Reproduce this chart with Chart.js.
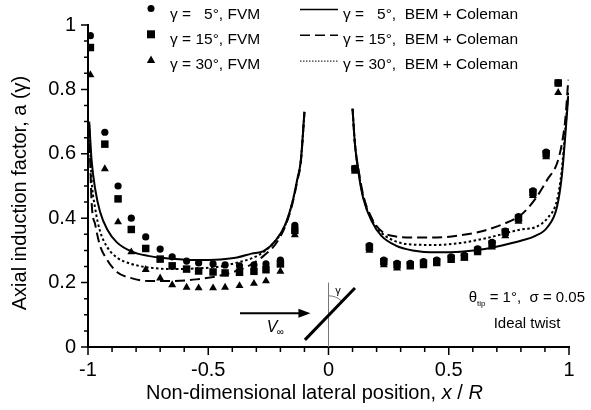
<!DOCTYPE html>
<html lang="en">
<head>
<meta charset="UTF-8">
<title>Axial induction factor</title>
<script src="https://cdn.jsdelivr.net/npm/chart.js"></script>
<style>
    html, body { margin: 0; padding: 0; background: #fff; }
    .chart-container { position: relative; width: 591px; height: 410px; }
</style>
</head>
<body>
<div class="chart-container"><canvas id="chart" width="591" height="410"></canvas></div>
<script>
// FVM results (symbols)
const fvmX = [-0.99, -0.93, -0.875, -0.82, -0.76, -0.70, -0.65, -0.59, -0.54, -0.48, -0.43, -0.37, -0.31, -0.26, -0.20, -0.14,
              0.11, 0.17, 0.23, 0.285, 0.34, 0.395, 0.45, 0.51, 0.565, 0.62, 0.68, 0.735, 0.79, 0.85, 0.905, 0.955];
const fvm5  = [0.967, 0.667, 0.50, 0.40, 0.342, 0.304, 0.28, 0.267, 0.261, 0.258, 0.255, 0.252, 0.255, 0.258, 0.27, 0.378,
               0.555, 0.315, 0.27, 0.26, 0.26, 0.265, 0.27, 0.28, 0.285, 0.305, 0.325, 0.36, 0.405, 0.485, 0.605, 0.82];
const fvm15 = [0.93, 0.63, 0.46, 0.365, 0.306, 0.273, 0.252, 0.242, 0.236, 0.233, 0.23, 0.232, 0.235, 0.24, 0.258, 0.362,
               0.553, 0.31, 0.265, 0.255, 0.255, 0.26, 0.265, 0.275, 0.28, 0.30, 0.32, 0.357, 0.40, 0.48, 0.60, 0.82];
const fvm30 = [0.845, 0.553, 0.388, 0.295, 0.24, 0.214, 0.193, 0.185, 0.183, 0.183, 0.185, 0.19, 0.197, 0.205, 0.235, 0.348,
               0.545, 0.30, 0.255, 0.245, 0.248, 0.252, 0.258, 0.268, 0.275, 0.292, 0.31, 0.345, 0.39, 0.47, 0.59, 0.79];

// BEM + Coleman (lines), left and right branches
const bemLeftX = [-0.995, -0.985, -0.97, -0.95, -0.92, -0.88, -0.82, -0.75, -0.65, -0.55, -0.45, -0.38, -0.32, -0.27, -0.22, -0.18, -0.15, -0.13, -0.115, -0.1];
const bem5Left  = [0.70, 0.58, 0.49, 0.42, 0.365, 0.325, 0.297, 0.283, 0.274, 0.27, 0.272, 0.278, 0.29, 0.298, 0.33, 0.38, 0.45, 0.52, 0.58, 0.73];
const bem15Left = [0.68, 0.45, 0.38, 0.315, 0.27, 0.233, 0.214, 0.205, 0.205, 0.21, 0.222, 0.237, 0.257, 0.283, 0.32, 0.375, 0.445, 0.515, 0.575, 0.73];
const bem30Left = [0.69, 0.52, 0.43, 0.36, 0.31, 0.278, 0.258, 0.247, 0.242, 0.244, 0.25, 0.262, 0.275, 0.295, 0.33, 0.378, 0.45, 0.52, 0.58, 0.73];

const bemRightX = [0.1, 0.11, 0.125, 0.145, 0.18, 0.22, 0.28, 0.35, 0.45, 0.55, 0.65, 0.72, 0.8, 0.86, 0.91, 0.95, 0.97, 0.985, 0.997];
const bem5Right  = [0.74, 0.63, 0.54, 0.46, 0.39, 0.345, 0.315, 0.30, 0.294, 0.296, 0.304, 0.315, 0.33, 0.345, 0.372, 0.435, 0.53, 0.66, 0.78];
const bem15Right = [0.74, 0.63, 0.55, 0.47, 0.40, 0.36, 0.343, 0.34, 0.34, 0.347, 0.362, 0.38, 0.41, 0.46, 0.52, 0.57, 0.63, 0.71, 0.83];
const bem30Right = [0.74, 0.63, 0.545, 0.465, 0.395, 0.355, 0.328, 0.318, 0.317, 0.323, 0.337, 0.35, 0.365, 0.372, 0.40, 0.456, 0.55, 0.68, 0.79];

const xTicks = [-1, -0.5, 0, 0.5, 1];
const yTicks = [0, 0.2, 0.4, 0.6, 0.8, 1];

const FONT = "'Liberation Sans', Arial, sans-serif";

function pts(xs, ys) {
    return xs.map((x, i) => ({ x: x, y: ys[i] }));
}

function fvmSet(label, ys, style, r) {
    return {
        label: label, data: pts(fvmX, ys), showLine: false,
        pointStyle: style, pointRadius: r, pointBorderWidth: 0,
        backgroundColor: '#000', borderColor: '#000'
    };
}

function bemSet(label, xs, ys, dash) {
    return {
        label: label, data: pts(xs, ys), borderColor: '#000', borderWidth: 2,
        borderDash: dash, pointRadius: 0, cubicInterpolationMode: 'monotone', fill: false
    };
}

const DASH = [10, 5];
const DOT = [2.5, 2.5];

// legend, inset and fine ticks
const decor = {
    id: 'decor',
    afterDraw(chart) {
        const { ctx, chartArea: a, scales: { x, y } } = chart;
        ctx.save();
        ctx.strokeStyle = '#000';
        ctx.fillStyle = '#000';

        // ticks (major + minor)
        ctx.lineWidth = 1.5;
        ctx.beginPath();
        for (let i = 0; i <= 20; i++) {
            const px = x.getPixelForValue(-1 + i * 0.1);
            const len = i % 5 === 0 ? 8 : 5;
            ctx.moveTo(px, a.bottom); ctx.lineTo(px, a.bottom + len);
        }
        for (let i = 0; i <= 20; i++) {
            const py = y.getPixelForValue(i * 0.05);
            const len = i % 4 === 0 ? 7 : 4;
            ctx.moveTo(a.left, py); ctx.lineTo(a.left - len, py);
        }
        ctx.stroke();

        // axis titles
        ctx.textBaseline = 'alphabetic';
        ctx.textAlign = 'left';
        let tx = 146;
        const parts = [['Non-dimensional lateral position, ', ''], ['x', 'italic '], [' / ', ''], ['R', 'italic ']];
        parts.forEach(([t, st]) => {
            ctx.font = st + '20px ' + FONT;
            ctx.fillText(t, tx, 399);
            tx += ctx.measureText(t).width;
        });
        ctx.save();
        ctx.translate(26, 193);
        ctx.rotate(-Math.PI / 2);
        ctx.textAlign = 'center';
        ctx.font = '20px ' + FONT;
        ctx.fillText('Axial induction factor, a (\u03b3)', 0, 0);
        ctx.restore();

        // legend
        ctx.font = '15.5px ' + FONT;
        const gammaText = (x0, base, deg, rest) => {
            ctx.textAlign = 'left';
            ctx.fillText('\u03b3 = ', x0, base);
            const numEnd = x0 + ctx.measureText('\u03b3 = 15').width;
            ctx.textAlign = 'right';
            ctx.fillText(deg, numEnd, base);
            ctx.textAlign = 'left';
            ctx.fillText('\u00b0' + rest, numEnd, base);
        };
        const degs = ['5', '15', '30'];
        const dashes = [[], DASH, [1.5, 1.5]];
        for (let k = 0; k < 3; k++) {
            const sy = 8.5 + 25.8 * k;
            const base = 18.5 + 25 * k;
            // symbol
            ctx.beginPath();
            if (k === 0) ctx.arc(151, sy, 3.5, 0, Math.PI * 2);
            else if (k === 1) ctx.rect(147, sy - 4, 8, 8);
            else { ctx.moveTo(151, sy - 4.5); ctx.lineTo(155.2, sy + 3); ctx.lineTo(146.8, sy + 3); ctx.closePath(); }
            ctx.fill();
            gammaText(170, base, degs[k], ', FVM');
            // line sample
            ctx.save();
            ctx.lineWidth = k === 2 ? 1 : 1.5;
            ctx.setLineDash(dashes[k]);
            ctx.beginPath();
            ctx.moveTo(300, sy + 1); ctx.lineTo(338, sy + 1);
            ctx.stroke();
            ctx.restore();
            gammaText(343, base, degs[k], ',  BEM + Coleman');
        }

        // inset: flow arrow, rotor disc, yaw angle
        const X = v => x.getPixelForValue(v);
        const Y = v => y.getPixelForValue(v);
        ctx.lineWidth = 2;
        ctx.beginPath();
        ctx.moveTo(X(-0.368), Y(0.105)); ctx.lineTo(X(-0.11), Y(0.105));
        ctx.stroke();
        ctx.beginPath();
        ctx.moveTo(X(-0.075), Y(0.105));
        ctx.lineTo(X(-0.125), Y(0.105) - 4.5);
        ctx.lineTo(X(-0.125), Y(0.105) + 4.5);
        ctx.closePath();
        ctx.fill();
        ctx.font = 'italic 16px ' + FONT;
        ctx.fillText('V', X(-0.257), Y(0.047));
        ctx.font = '10px ' + FONT;
        ctx.fillText('\u221e', X(-0.215), Y(0.036));

        ctx.strokeStyle = '#777';
        ctx.lineWidth = 1;
        ctx.beginPath();
        ctx.moveTo(X(0), Y(0)); ctx.lineTo(X(0), Y(0.2));
        ctx.stroke();
        const cx = X(0), cy = Y(0.1);
        ctx.beginPath();
        ctx.arc(cx, cy, 19, -Math.PI / 2, -0.8, false);
        ctx.stroke();

        ctx.strokeStyle = '#000';
        ctx.lineWidth = 3;
        ctx.beginPath();
        ctx.moveTo(X(-0.098), Y(0.022)); ctx.lineTo(X(0.11), Y(0.183));
        ctx.stroke();
        ctx.font = '11px ' + FONT;
        ctx.fillText('\u03b3', X(0.028), Y(0.165));

        // case parameters
        ctx.font = '15px ' + FONT;
        ctx.textAlign = 'right';
        const rest = ' = 1\u00b0,  \u03c3 = 0.05';
        ctx.fillText(rest, 585, 302);
        const rw = ctx.measureText(rest).width;
        ctx.font = '8px ' + FONT;
        ctx.fillText('tip', 585 - rw, 306);
        const tw = ctx.measureText('tip').width;
        ctx.font = '15px ' + FONT;
        ctx.fillText('\u03b8', 585 - rw - tw, 302);
        ctx.textAlign = 'center';
        ctx.fillText('Ideal twist', 527, 328);
        ctx.restore();
    }
};

const tickLabel = v => String(Math.round(v * 100) / 100);

const ctx = document.getElementById('chart').getContext('2d');
const chart = new Chart(ctx, {
    type: 'line',
    data: {
        datasets: [
            fvmSet('\u03b3 = 5\u00b0, FVM', fvm5, 'circle', 3.6),
            fvmSet('\u03b3 = 15\u00b0, FVM', fvm15, 'rect', 5.3),
            fvmSet('\u03b3 = 30\u00b0, FVM', fvm30, 'triangle', 4.6),
            bemSet('\u03b3 = 5\u00b0, BEM + Coleman', bemLeftX, bem5Left, []),
            bemSet('\u03b3 = 5\u00b0, BEM + Coleman (right)', bemRightX, bem5Right, []),
            bemSet('\u03b3 = 15\u00b0, BEM + Coleman', bemLeftX, bem15Left, DASH),
            bemSet('\u03b3 = 15\u00b0, BEM + Coleman (right)', bemRightX, bem15Right, DASH),
            bemSet('\u03b3 = 30\u00b0, BEM + Coleman', bemLeftX, bem30Left, DOT),
            bemSet('\u03b3 = 30\u00b0, BEM + Coleman (right)', bemRightX, bem30Right, DOT)
        ]
    },
    options: {
        responsive: false,
        animation: false,
        devicePixelRatio: 1,
        layout: { padding: { left: 0, right: 22, top: 25, bottom: 0 } },
        plugins: { legend: { display: false }, tooltip: { enabled: false } },
        scales: {
            x: {
                type: 'linear', min: -1, max: 1,
                grid: { display: false, drawTicks: false },
                border: { display: true, color: '#000', width: 2 },
                afterBuildTicks: s => { s.ticks = xTicks.map(v => ({ value: v })); },
                ticks: { color: '#000', padding: 11, font: { family: FONT, size: 20 }, callback: tickLabel },
                afterFit: s => { s.height = 63; }
            },
            y: {
                type: 'linear', min: 0, max: 1,
                grid: { display: false, drawTicks: false },
                border: { display: true, color: '#000', width: 2 },
                afterBuildTicks: s => { s.ticks = yTicks.map(v => ({ value: v })); },
                ticks: { color: '#000', padding: 12, font: { family: FONT, size: 20 }, callback: tickLabel },
                afterFit: s => { s.width = 88; }
            }
        }
    },
    plugins: [decor]
});
</script>
</body>
</html>
